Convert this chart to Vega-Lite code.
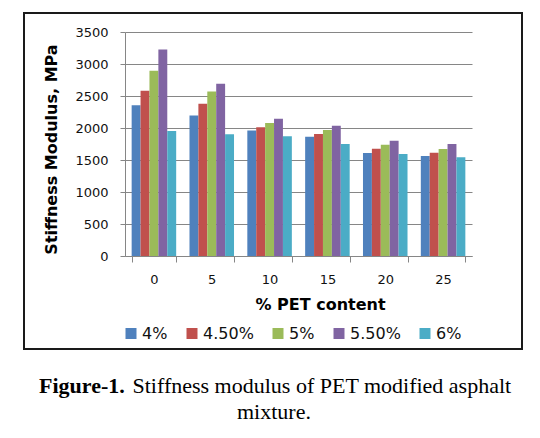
{
  "$schema": "https://vega.github.io/schema/vega-lite/v6.json",
  "autosize": "none",
  "padding": {"left": 24, "top": 13, "right": 18, "bottom": 89},
  "width": 498,
  "height": 336,
  "background": "white",
  "title": {
    "text": "Figure-1.",
    "subtitle": ["\u200b\u00a0\u00a0\u00a0\u00a0\u00a0\u00a0\u00a0\u00a0\u00a0\u00a0\u00a0\u00a0\u00a0\u00a0\u00a0\u00a0\u00a0Stiffness modulus of PET modified asphalt", "\u200b\u00a0\u00a0\u00a0\u00a0\u00a0\u00a0\u00a0\u00a0\u00a0\u00a0\u00a0\u00a0\u00a0\u00a0\u00a0\u00a0\u00a0\u00a0\u00a0\u00a0\u00a0\u00a0\u00a0\u00a0\u00a0\u00a0\u00a0\u00a0\u00a0\u00a0\u00a0\u00a0\u00a0\u00a0\u00a0\u00a0mixture."],
    "orient": "bottom",
    "anchor": "start",
    "align": "left",
    "frame": "group",
    "offset": 27,
    "dx": 15,
    "font": "Liberation Serif",
    "fontSize": 22,
    "fontWeight": "bold",
    "color": "#000",
    "subtitleFont": "Liberation Serif",
    "subtitleFontSize": 22,
    "subtitleFontWeight": "normal",
    "subtitleColor": "#000",
    "subtitlePadding": -22,
    "subtitleLineHeight": 25.6
  },
  "data": {
    "values": [
      {"pet": "0", "binder": "4%", "value": 2357},
      {"pet": "0", "binder": "4.50%", "value": 2581},
      {"pet": "0", "binder": "5%", "value": 2894},
      {"pet": "0", "binder": "5.50%", "value": 3227},
      {"pet": "0", "binder": "6%", "value": 1955},
      {"pet": "5", "binder": "4%", "value": 2195},
      {"pet": "5", "binder": "4.50%", "value": 2377},
      {"pet": "5", "binder": "5%", "value": 2570},
      {"pet": "5", "binder": "5.50%", "value": 2690},
      {"pet": "5", "binder": "6%", "value": 1903},
      {"pet": "10", "binder": "4%", "value": 1960},
      {"pet": "10", "binder": "4.50%", "value": 2012},
      {"pet": "10", "binder": "5%", "value": 2080},
      {"pet": "10", "binder": "5.50%", "value": 2143},
      {"pet": "10", "binder": "6%", "value": 1872},
      {"pet": "15", "binder": "4%", "value": 1865},
      {"pet": "15", "binder": "4.50%", "value": 1906},
      {"pet": "15", "binder": "5%", "value": 1969},
      {"pet": "15", "binder": "5.50%", "value": 2036},
      {"pet": "15", "binder": "6%", "value": 1750},
      {"pet": "20", "binder": "4%", "value": 1609},
      {"pet": "20", "binder": "4.50%", "value": 1677},
      {"pet": "20", "binder": "5%", "value": 1740},
      {"pet": "20", "binder": "5.50%", "value": 1802},
      {"pet": "20", "binder": "6%", "value": 1594},
      {"pet": "25", "binder": "4%", "value": 1563},
      {"pet": "25", "binder": "4.50%", "value": 1615},
      {"pet": "25", "binder": "5%", "value": 1672},
      {"pet": "25", "binder": "5.50%", "value": 1750},
      {"pet": "25", "binder": "6%", "value": 1542}
    ]
  },
  "mark": {"type": "bar"},
  "encoding": {
    "x": {
      "field": "pet",
      "type": "ordinal",
      "sort": ["0", "5", "10", "15", "20", "25"],
      "scale": {"range": [101, 448], "paddingInner": 0.23, "paddingOuter": 0.115},
      "axis": {
        "title": "% PET content",
        "offset": -93,
        "labelAngle": 0,
        "labelFont": "DejaVu Sans",
        "labelFontSize": 13,
        "labelColor": "#111",
        "labelBaseline": "alphabetic",
        "labelPadding": 21,
        "tickBand": "extent",
        "tickSize": 6,
        "tickColor": "#868686",
        "domainColor": "#868686",
        "titleFont": "DejaVu Sans",
        "titleFontSize": 16,
        "titleFontWeight": "bold",
        "titleColor": "#000",
        "titleBaseline": "alphabetic",
        "titleAlign": "center",
        "titleX": 296,
        "titleY": 53
      }
    },
    "xOffset": {
      "field": "binder",
      "type": "nominal",
      "sort": ["4%", "4.50%", "5%", "5.50%", "6%"],
      "scale": {"paddingInner": 0, "paddingOuter": 0}
    },
    "y": {
      "field": "value",
      "type": "quantitative",
      "scale": {"domain": [0, 3500], "range": [243, 19], "nice": false},
      "axis": {
        "title": "Stiffness Modulus, MPa",
        "offset": -101,
        "values": [0, 500, 1000, 1500, 2000, 2500, 3000, 3500],
        "format": "d",
        "labelFont": "DejaVu Sans",
        "labelFontSize": 13,
        "labelColor": "#111",
        "labelPadding": 12,
        "tickSize": 5,
        "tickColor": "#868686",
        "domainColor": "#868686",
        "grid": true,
        "gridColor": "#868686",
        "gridWidth": 1,
        "titleFont": "DejaVu Sans",
        "titleFontSize": 16,
        "titleFontWeight": "bold",
        "titleColor": "#000",
        "titleBaseline": "alphabetic",
        "titleAlign": "center",
        "titleAngle": -90,
        "titleX": -69,
        "titleY": 136
      }
    },
    "color": {
      "field": "binder",
      "type": "nominal",
      "sort": ["4%", "4.50%", "5%", "5.50%", "6%"],
      "scale": {"range": ["#4F81BD", "#C0504D", "#9BBB59", "#8064A2", "#4BACC6"]},
      "legend": {
        "title": null,
        "orient": "none",
        "direction": "horizontal",
        "legendX": 99,
        "legendY": 312.5,
        "padding": 0,
        "symbolType": "square",
        "symbolSize": 121,
        "symbolStrokeWidth": 0,
        "labelFont": "DejaVu Sans",
        "labelFontSize": 16,
        "labelColor": "#111",
        "labelOffset": 3,
        "columnPadding": 16
      }
    }
  },
  "config": {
    "view": {"stroke": "#1a1a1a", "strokeWidth": 2}
  }
}
